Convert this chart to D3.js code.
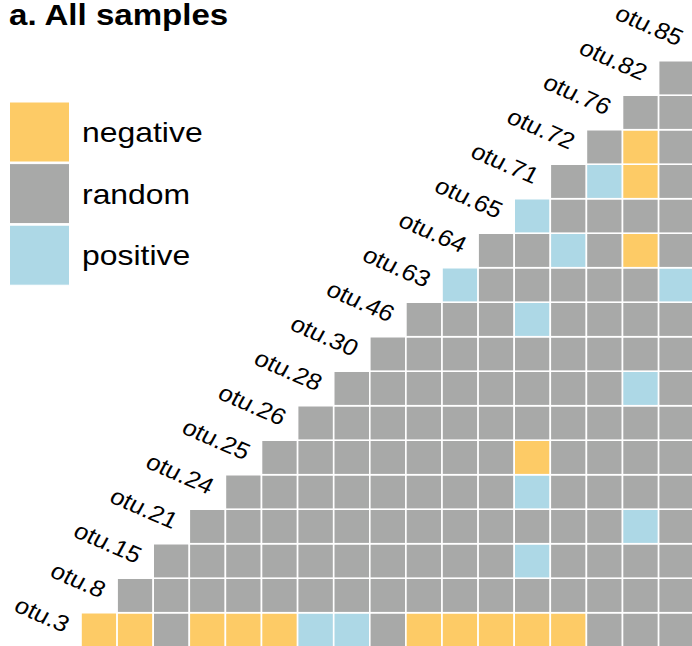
<!DOCTYPE html>
<html><head><meta charset="utf-8">
<script src="https://cdn.jsdelivr.net/npm/d3@7"></script>
<style>body{margin:0;background:#fff}svg{display:block}text{font-family:"Liberation Sans",Helvetica,Arial,sans-serif}</style>
</head><body>
<svg id="chart" width="692" height="646"></svg>
<script>
// Row / column labels (OTUs)
const otus = ["otu.3","otu.8","otu.15","otu.21","otu.24","otu.25","otu.26","otu.28","otu.30",
  "otu.46","otu.63","otu.64","otu.65","otu.71","otu.72","otu.76","otu.82","otu.85"];
// Status categories and colours
const statuses = ["negative","random","positive"];
const statusColors = ["#FDCB66","#A8A9A8","#ADD8E6"];
// Cell status per row, starting at column index == row index (N=negative, R=random, P=positive)
const rowStatus = [
  "NNRNNNPPRNNNNNRRR",
  "RRRRRRRRRRRRRRRR",
  "RRRRRRRRRRPRRRR",
  "RRRRRRRRRRRRPR",
  "RRRRRRRRPRRRR",
  "RRRRRRRNRRRR",
  "RRRRRRRRRRR",
  "RRRRRRRRPR",
  "RRRRRRRRR",
  "RRRPRRRR",
  "PRRRRRP",
  "RRPRNR",
  "PRRRR",
  "RPNR",
  "RNR",
  "RR",
  "R",
  ""
];
const codeMap = {N:"negative", R:"random", P:"positive"};

const cells = [];
rowStatus.forEach((s, r) => {
  s.split("").forEach((ch, k) => {
    cells.push({row: otus[r], col: otus[r + k], status: codeMap[ch]});
  });
});

const svg = d3.select("#chart");
const x = d3.scaleBand().domain(otus).range([81, 81 + 18 * 36.1]).padding(0);
const y = d3.scaleBand().domain(otus).range([647.2, 647.2 - 18 * 34.5]).padding(0);
const color = d3.scaleOrdinal().domain(statuses).range(statusColors);

svg.append("g").selectAll("rect").data(cells).join("rect")
  .attr("x", d => x(d.col))
  .attr("y", d => y(d.row))
  .attr("width", x.bandwidth())
  .attr("height", y.bandwidth())
  .attr("fill", d => color(d.status))
  .attr("stroke", "#fff")
  .attr("stroke-width", 1.6);

// diagonal labels
svg.append("g").selectAll("text").data(otus).join("text")
  .attr("transform", d => `translate(${x(d) - 17},${y(d) + y.bandwidth() / 2 + 3}) scale(1.12,1) rotate(26)`)
  .attr("text-anchor", "end")
  .attr("font-size", 23)
  .attr("fill", "#000")
  .text(d => d);

// title
svg.append("text")
  .attr("transform", "translate(9,25) scale(1.14,1)")
  .attr("font-size", 29).attr("font-weight", "bold")
  .text("a. All samples");

// legend
const lg = svg.append("g");
const ly = d3.scaleBand().domain(statuses).range([101.5, 101.5 + 3 * 61.6]);
lg.selectAll("rect").data(statuses).join("rect")
  .attr("x", 9.5).attr("y", d => ly(d) + 0.5)
  .attr("width", 60).attr("height", 60)
  .attr("fill", d => color(d))
  .attr("stroke", "#fff").attr("stroke-width", 1);
lg.selectAll("text").data(statuses).join("text")
  .attr("transform", d => `translate(82,${ly(d) + 40.5}) scale(1.12,1)`)
  .attr("font-size", 28.5)
  .text(d => d);
</script>
</body></html>
